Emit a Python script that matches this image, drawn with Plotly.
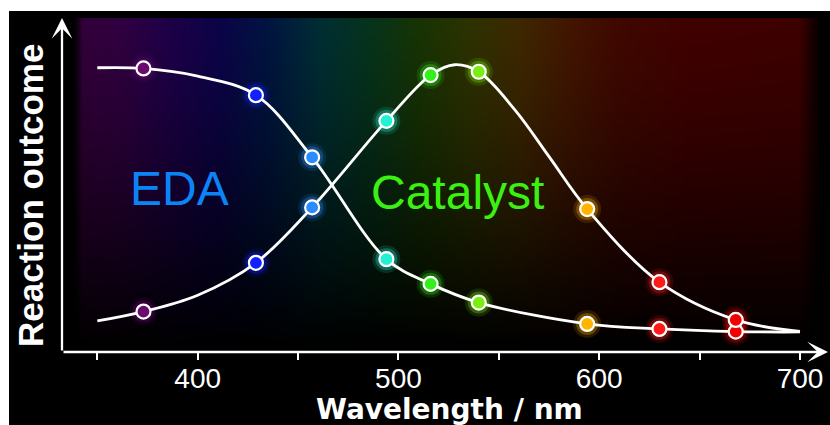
import base64
import struct
import zlib

import numpy as np
import plotly.graph_objects as go

# ---------------- data ----------------
wavelengths = [373, 429, 457, 494, 516, 540, 594, 630, 668]
eda_values = [84.9, 76.9, 58.3, 27.8, 20.4, 14.8, 8.4, 6.9, 6.1]
catalyst_values = [12.1, 26.7, 43.3, 69.2, 82.9, 83.9, 42.8, 20.9, 9.6]
point_colors = ["#6a0a6e", "#1020ff", "#2b8cff", "#22f0d2", "#33f01a",
                "#7aee10", "#ffb400", "#ff1a1a", "#f20000"]

eda_fit_wl = [350, 373, 400, 429, 457, 494, 516, 540, 594, 630, 668, 700]
eda_fit = [85.1, 84.9, 82.6, 76.9, 58.3, 27.8, 20.4, 14.8, 8.4, 6.9, 6.1, 6.0]
cat_fit_wl = [350, 373, 400, 429, 457, 494, 516, 528, 540, 558, 575, 594, 630, 668, 700]
cat_fit = [9.3, 12.1, 17.0, 26.7, 43.3, 69.2, 82.9, 86.0, 83.9, 72.5, 58.5, 42.8, 20.9, 9.6, 6.2]

x_tick_vals = [350, 400, 450, 500, 550, 600, 650, 700]
x_tick_text = ["", "400", "", "500", "", "600", "", "700"]

# ---------------- layout geometry (pixels) ----------------
W, H = 830, 425
PL, PR, PT, PB = 62, 828, 18, 352          # plot area
X350, X700 = 97.3, 800.0                     # pixel of 350 nm and 700 nm
pxnm = (X700 - X350) / 350.0
x_range = [350 - (X350 - PL) / pxnm, 350 + (PR - X350) / pxnm]


def px_x(p):
    return (p - PL) / (PR - PL)


def px_y(p):
    return (PB - p) / (PB - PT)


def rgba(hexcol, a):
    h = hexcol.lstrip("#")
    return "rgba(%d,%d,%d,%.3f)" % (int(h[0:2], 16), int(h[2:4], 16), int(h[4:6], 16), a)


# ---------------- spectral background image ----------------
def make_png(arr):
    h, w, _ = arr.shape
    raw = b"".join(b"\x00" + arr[i].tobytes() for i in range(h))

    def chunk(tag, data):
        return (struct.pack(">I", len(data)) + tag + data +
                struct.pack(">I", zlib.crc32(tag + data) & 0xFFFFFFFF))

    png = (b"\x89PNG\r\n\x1a\n" +
           chunk(b"IHDR", struct.pack(">IIBBBBB", w, h, 8, 2, 0, 0, 0)) +
           chunk(b"IDAT", zlib.compress(raw, 9)) +
           chunk(b"IEND", b""))
    return "data:image/png;base64," + base64.b64encode(png).decode()


IMG_X0, IMG_X1 = 62, 822
stop_px = [62, 73, 82, 120, 170, 220, 270, 320, 370, 420, 470, 520, 570, 620, 700, 800, 812, 822]
stop_rgb = [(0, 0, 0), (0, 0, 0), (50, 0, 58), (48, 0, 64), (30, 0, 72), (12, 4, 72),
            (0, 22, 64), (0, 46, 52), (6, 52, 28), (24, 52, 4), (46, 50, 0), (62, 40, 0),
            (66, 22, 0), (64, 8, 0), (64, 0, 0), (62, 0, 0), (30, 0, 0), (0, 0, 0)]
IW, IH = 380, 167
xs = np.linspace(IMG_X0, IMG_X1, IW)
cols = np.stack([np.interp(xs, stop_px, [c[k] for c in stop_rgb]) for k in range(3)], axis=1)
t = np.linspace(0, 1, IH)
fade = 1 - t ** 1.4
img = np.clip(cols[None, :, :] * fade[:, None, None], 0, 255).astype(np.uint8)
bg_src = make_png(img)

# ---------------- figure ----------------
fig = go.Figure()

# glow halos
for size, alpha in [(28, 0.14), (22, 0.3)]:
    for vals in (eda_values, catalyst_values):
        fig.add_trace(go.Scatter(
            x=wavelengths, y=vals, mode="markers",
            marker=dict(size=size, color=[rgba(c, alpha) for c in point_colors], line=dict(width=0)),
            hoverinfo="skip", showlegend=False))

# fitted curves
for fx, fy in ((eda_fit_wl, eda_fit), (cat_fit_wl, cat_fit)):
    fig.add_trace(go.Scatter(
        x=fx, y=fy, mode="lines",
        line=dict(color="white", width=2.8, shape="spline", smoothing=1.0),
        hoverinfo="skip", showlegend=False))

# data points
for name, vals in (("EDA", eda_values), ("Catalyst", catalyst_values)):
    fig.add_trace(go.Scatter(
        x=wavelengths, y=vals, mode="markers", name=name,
        marker=dict(size=14, color=point_colors, line=dict(color="white", width=2.2)),
        showlegend=False))

annotations = [
    # axis arrows
    dict(x=px_x(PR), y=px_y(PB), xref="paper", yref="paper", ax=-(PR - PL), ay=0,
         text="", showarrow=True, arrowhead=3, arrowsize=1.5, arrowwidth=2.3, arrowcolor="white"),
    dict(x=px_x(PL), y=px_y(PT), xref="paper", yref="paper", ax=0, ay=(PB - PT),
         text="", showarrow=True, arrowhead=3, arrowsize=1.5, arrowwidth=2.3, arrowcolor="white"),
    # labels in the plot
    dict(x=px_x(179), y=px_y(188), xref="paper", yref="paper", text="EDA", showarrow=False,
         font=dict(family="Liberation Sans, Arial, sans-serif", size=48, color="rgb(12,132,245)"),
         xanchor="center", yanchor="middle"),
    dict(x=px_x(457.5), y=px_y(192), xref="paper", yref="paper", text="Catalyst", showarrow=False,
         font=dict(family="Liberation Sans, Arial, sans-serif", size=48, color="rgb(60,240,20)"),
         xanchor="center", yanchor="middle"),
    # axis titles
    dict(x=px_x(449), y=px_y(409), xref="paper", yref="paper", text="<b>Wavelength / nm</b>",
         showarrow=False, font=dict(family="DejaVu Sans, sans-serif", size=28, color="white"),
         xanchor="center", yanchor="middle"),
    dict(x=px_x(30), y=px_y(196), xref="paper", yref="paper", text="<b>Reaction outcome</b>",
         showarrow=False, textangle=-90,
         font=dict(family="Liberation Sans, Arial, sans-serif", size=35, color="white"),
         xanchor="center", yanchor="middle"),
]

shapes = [
    # white strips around the black panel
    dict(type="rect", xref="paper", yref="paper", x0=px_x(-5), x1=px_x(9), y0=px_y(H + 5), y1=px_y(-5),
         fillcolor="white", line=dict(width=0), layer="below"),
    dict(type="rect", xref="paper", yref="paper", x0=px_x(-5), x1=px_x(W + 5), y0=px_y(11), y1=px_y(-5),
         fillcolor="white", line=dict(width=0), layer="below"),
]

fig.update_layout(
    width=W, height=H,
    margin=dict(l=PL, r=W - PR, t=PT, b=H - PB, pad=0),
    paper_bgcolor="black", plot_bgcolor="black",
    showlegend=False,
    xaxis=dict(range=x_range, showgrid=False, zeroline=False, showline=False,
               tickmode="array", tickvals=x_tick_vals, ticktext=x_tick_text,
               ticks="outside", ticklen=7, tickwidth=2, tickcolor="white",
               ticklabelstandoff=-6,
               tickfont=dict(family="Liberation Sans, Arial, sans-serif", size=28, color="white")),
    yaxis=dict(range=[0, 100], showgrid=False, zeroline=False, showline=False,
               showticklabels=False, ticks=""),
    images=[dict(source=bg_src, xref="paper", yref="paper",
                 x=px_x(IMG_X0), y=1, sizex=px_x(IMG_X1) - px_x(IMG_X0), sizey=1,
                 sizing="stretch", xanchor="left", yanchor="top", layer="below")],
    annotations=annotations,
    shapes=shapes,
)

fig.write_html("out.html")
